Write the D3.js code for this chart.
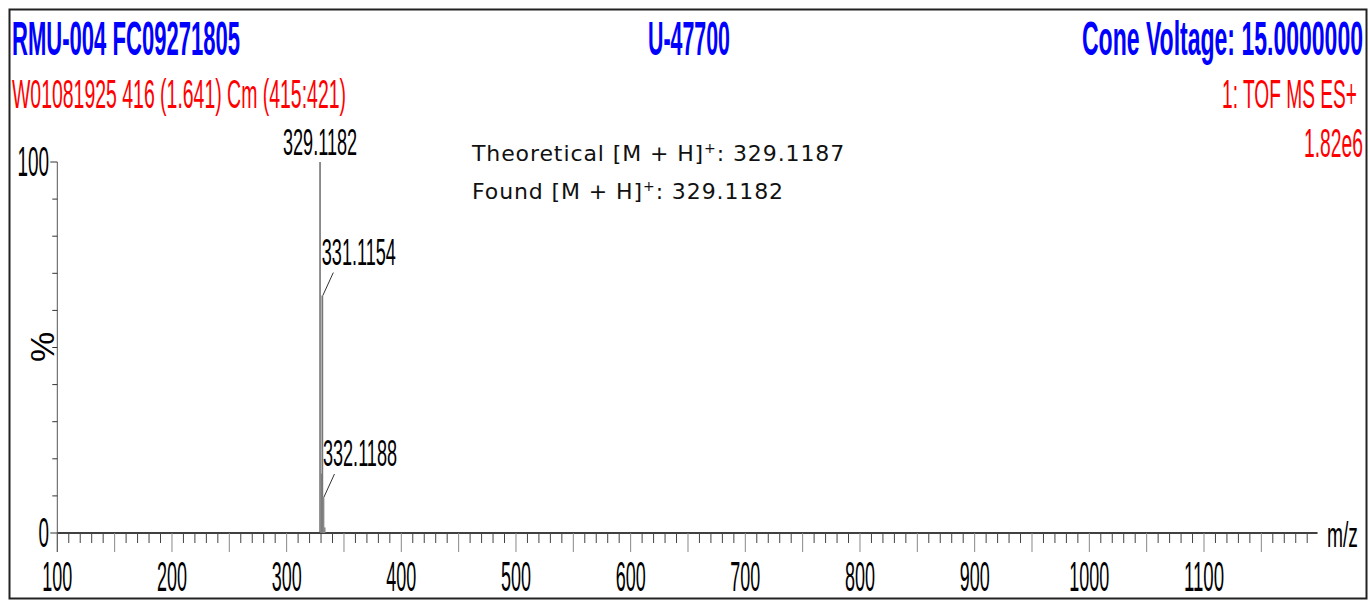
<!DOCTYPE html>
<html>
<head>
<meta charset="utf-8">
<script src="https://cdn.jsdelivr.net/npm/d3@7"></script>
<style>
  body { margin: 0; background: #fff; }
  svg { display: block; }
</style>
</head>
<body>
<svg id="svg1" width="1370" height="602"></svg>
<script>
// spectrum peaks (m/z, relative intensity %)
var peakMz   = [329.1182, 330.12, 331.1154, 332.1188, 333.12];
var peakInt  = [100, 16, 64, 9.7, 1.5];
var peakCol  = ["#444", "#888", "#777", "#888", "#888"];
// labelled peaks
var labelMz   = [329.1182, 331.1154, 332.1188];
var labelInt  = [100, 64, 9.7];
var labelText = ["329.1182", "331.1154", "332.1188"];
// axis ticks
var xTickLabels = [100, 200, 300, 400, 500, 600, 700, 800, 900, 1000, 1100];
var yTickLabels = [0, 100];

var svg = d3.select("#svg1");
var cond = "'Liberation Sans', Arial, sans-serif";

var x = d3.scaleLinear().domain([100, 1100]).range([57.3, 1204]);
var y = d3.scaleLinear().domain([0, 100]).range([533, 162]);
var xMax = 1199;

// squeezed text like the MassLynx print-out
function stretchText(tx, ty, str, size, len, opts) {
  opts = opts || {};
  return svg.append("text")
    .attr("x", tx).attr("y", ty)
    .attr("font-family", cond)
    .attr("font-size", size)
    .attr("font-weight", opts.bold ? "bold" : "normal")
    .attr("fill", opts.fill || "#000")
    .attr("text-anchor", opts.anchor || "start")
    .attr("textLength", len)
    .attr("lengthAdjust", "spacingAndGlyphs")
    .text(str);
}

// frame
svg.append("rect")
  .attr("x", 9.5).attr("y", 9.5).attr("width", 1357).attr("height", 589)
  .attr("fill", "none").attr("stroke", "#222").attr("stroke-width", 2);

// header
stretchText(12, 55, "RMU-004 FC09271805", 48, 228, {bold: true, fill: "#0000ff"});
stretchText(689, 55, "U-47700", 48, 82, {bold: true, fill: "#0000ff", anchor: "middle"});
stretchText(1363, 55, "Cone Voltage: 15.0000000", 48, 281, {bold: true, fill: "#0000ff", anchor: "end"});
stretchText(12, 108, "W01081925 416 (1.641) Cm (415:421)", 40, 334, {fill: "#ff0000"});
stretchText(1357, 108, "1: TOF MS ES+", 40, 135, {fill: "#ff0000", anchor: "end"});
stretchText(1363, 157, "1.82e6", 40, 59, {fill: "#ff0000", anchor: "end"});

// x axis
var g = svg.append("g");
g.append("line")
  .attr("x1", x(100)).attr("x2", x(xMax))
  .attr("y1", y(0)).attr("y2", y(0))
  .attr("stroke", "#000").attr("stroke-width", 1.3);

var minor = d3.range(100, xMax, 10);
g.selectAll(".xt").data(minor).enter().append("line")
  .attr("x1", d => x(d)).attr("x2", d => x(d))
  .attr("y1", y(0))
  .attr("y2", d => y(0) + (d % 50 === 0 ? 19 : 10))
  .attr("stroke", d => d % 50 === 0 ? "#888" : "#444")
  .attr("stroke-width", 1);

g.selectAll(".xl").data(xTickLabels).enter().append("text")
  .attr("x", d => x(d)).attr("y", 591)
  .attr("font-family", cond).attr("font-size", 43)
  .attr("text-anchor", "middle")
  .attr("textLength", d => String(d).length * 10)
  .attr("lengthAdjust", "spacingAndGlyphs")
  .text(d => d);

stretchText(1327, 547, "m/z", 35, 31);

// y axis
g.append("line")
  .attr("x1", x(100)).attr("x2", x(100))
  .attr("y1", y(100)).attr("y2", y(0) + 19)
  .attr("stroke", "#555").attr("stroke-width", 1);
g.selectAll(".yt").data(d3.range(0, 101, 10)).enter().append("line")
  .attr("x1", x(100))
  .attr("x2", d => x(100) - (d % 100 === 0 ? 7 : 5))
  .attr("y1", d => y(d)).attr("y2", d => y(d))
  .attr("stroke", "#333").attr("stroke-width", 1);
g.selectAll(".yl").data(yTickLabels).enter().append("text")
  .attr("x", 49).attr("y", d => y(d) + 14)
  .attr("font-family", cond).attr("font-size", 43)
  .attr("text-anchor", "end")
  .attr("textLength", d => String(d).length * 10.5)
  .attr("lengthAdjust", "spacingAndGlyphs")
  .text(d => d);

svg.append("text")
  .attr("transform", "translate(54,347) rotate(-90)")
  .attr("font-family", cond).attr("font-size", 34)
  .attr("text-anchor", "middle")
  .text("%");

// peaks
svg.selectAll(".pk").data(peakMz).enter().append("line")
  .attr("x1", d => x(d)).attr("x2", d => x(d))
  .attr("y1", y(0)).attr("y2", (d, i) => y(peakInt[i]))
  .attr("stroke", (d, i) => peakCol[i])
  .attr("stroke-width", (d, i) => i === 0 ? 1.2 : 1.8);

// peak labels
labelMz.forEach(function(mz, i) {
  var px = x(mz), py = y(labelInt[i]);
  if (i === 0) {
    stretchText(px, py - 7, labelText[i], 36, 74, {anchor: "middle"});
  } else {
    svg.append("line")
      .attr("x1", px + 0.5).attr("y1", py)
      .attr("x2", px + 11).attr("y2", py - 23)
      .attr("stroke", "#333").attr("stroke-width", 1);
    stretchText(px - 0.5, py - 31, labelText[i], 36, 74);
  }
});

// annotation
var note = svg.append("g")
  .attr("font-family", "'DejaVu Sans', Verdana, sans-serif")
  .attr("font-size", 22).attr("letter-spacing", 0.9).attr("fill", "#111");
var t1 = note.append("text").attr("x", 472).attr("y", 161);
t1.append("tspan").text("Theoretical [M + H]");
t1.append("tspan").attr("font-size", 14).attr("dy", -8).text("+");
t1.append("tspan").attr("dy", 8).text(": 329.1187");
var t2 = note.append("text").attr("x", 472).attr("y", 199);
t2.append("tspan").text("Found [M + H]");
t2.append("tspan").attr("font-size", 14).attr("dy", -8).text("+");
t2.append("tspan").attr("dy", 8).text(": 329.1182");
</script>
</body>
</html>
